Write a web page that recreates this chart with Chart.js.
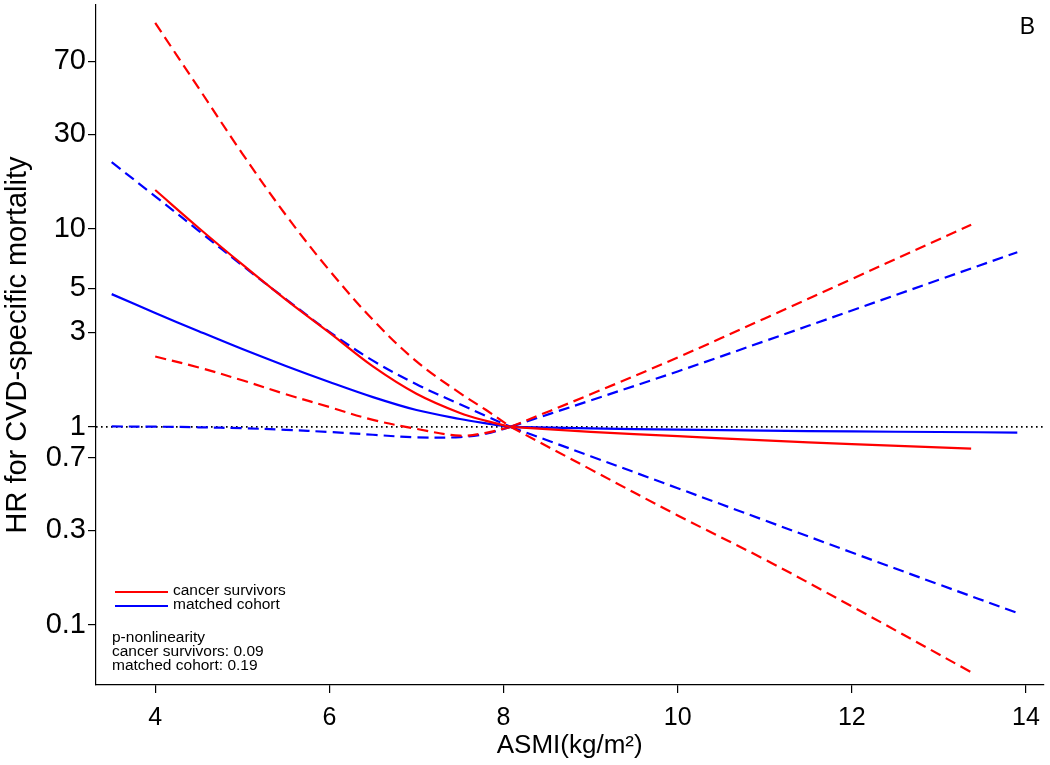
<!DOCTYPE html>
<html lang="en">
<head>
<meta charset="UTF-8">
<title>HR for CVD-specific mortality by ASMI</title>
<script src="https://cdn.jsdelivr.net/npm/chart.js"></script>
<style>
  body { margin: 0; background: #fff; }
  .wrap { width: 1050px; height: 765px; position: relative; }
</style>
</head>
<body>
<div class="wrap"><canvas id="hrChart"></canvas></div>
<script>
// values (HR with 95% CI)
const cancerX     = [4, 4.5, 5, 5.5, 6, 6.5, 7, 7.5, 7.8, 8.08, 9, 10, 11, 12, 13.37];
const cancerHR    = [15.7, 10.1, 6.61, 4.39, 2.99, 2.02, 1.47, 1.175, 1.072, 1, 0.944, 0.897, 0.855, 0.818, 0.776];
const cancerUpper = [109.6, 51.3, 24.0, 11.75, 6.17, 3.47, 2.14, 1.48, 1.216, 1, 1.46, 2.24, 3.53, 5.58, 10.5];
const cancerLower = [2.265, 1.995, 1.718, 1.462, 1.259, 1.084, 0.977, 0.902, 0.933, 1, 0.61, 0.357, 0.214, 0.124, 0.0577];

const matchedX     = [3.5, 4, 4.5, 5, 5.5, 6, 6.5, 7, 7.5, 7.8, 8.08, 9, 10, 11, 12, 13, 13.9];
const matchedHR    = [4.68, 3.76, 3.04, 2.47, 2.03, 1.685, 1.413, 1.216, 1.096, 1.042, 1, 0.982, 0.968, 0.957, 0.948, 0.942, 0.936];
const matchedUpper = [21.7, 14.6, 9.77, 6.53, 4.42, 3.02, 2.16, 1.64, 1.30, 1.135, 1, 1.36, 1.905, 2.71, 3.87, 5.53, 7.62];
const matchedLower = [1.005, 1.002, 0.995, 0.984, 0.966, 0.942, 0.912, 0.885, 0.887, 0.923, 1, 0.711, 0.49, 0.337, 0.232, 0.16, 0.115];

const refX = 8.08;   // reference ASMI, all curves meet at HR = 1
const xTicks = [4, 6, 8, 10, 12, 14];
const yTicks = [0.1, 0.3, 0.7, 1, 3, 5, 10, 30, 70];
const groups = ['cancer survivors', 'matched cohort'];
const pNonlin = ['0.09', '0.19'];

const RED = '#ff0000';
const BLUE = '#0000ff';
const FONT = 'Liberation Sans, Arial, sans-serif';
Chart.defaults.font.family = FONT;
Chart.defaults.color = '#000';

// split a curve at the reference point so the kink there stays sharp
function part(xs, ys, left) {
    const pts = [];
    xs.forEach((x, i) => {
        if (left ? x <= refX : x >= refX) pts.push({ x: x, y: ys[i] });
    });
    return pts;
}

function curve(label, xs, ys, color, dashed) {
    return [true, false].map(left => ({
        label: label,
        data: part(xs, ys, left),
        borderColor: color,
        borderWidth: 2.2,
        borderDash: dashed ? [11, 6] : [],
        pointRadius: 0,
        tension: 0.35,
        fill: false
    }));
}

const datasets = [
    ...curve(groups[0], cancerX, cancerHR, RED, false),
    ...curve(groups[1], matchedX, matchedHR, BLUE, false),
    ...curve(groups[0] + ' upper', cancerX, cancerUpper, RED, true),
    ...curve(groups[0] + ' lower', cancerX, cancerLower, RED, true),
    ...curve(groups[1] + ' upper', matchedX, matchedUpper, BLUE, true),
    ...curve(groups[1] + ' lower', matchedX, matchedLower, BLUE, true),
    {
        label: 'HR = 1',
        data: [{ x: 3.32, y: 1 }, { x: 14.2, y: 1 }],
        borderColor: '#000',
        borderWidth: 1.6,
        borderDash: [1.6, 3.4],
        pointRadius: 0
    }
];

// legend, p-values and panel letter inside the plot
const notes = {
    id: 'notes',
    afterDatasetsDraw(chart) {
        const { ctx, chartArea } = chart;
        const x0 = chartArea.left + 19;
        const y0 = chartArea.bottom - 93;
        ctx.save();
        ctx.font = '15.5px ' + FONT;
        ctx.textBaseline = 'middle';
        ctx.fillStyle = '#000';
        [RED, BLUE].forEach((c, i) => {
            const y = y0 + i * 14;
            ctx.strokeStyle = c;
            ctx.lineWidth = 2;
            ctx.beginPath();
            ctx.moveTo(x0, y);
            ctx.lineTo(x0 + 53, y);
            ctx.stroke();
            ctx.fillText(groups[i], x0 + 58, y - 1);
        });
        ctx.fillText('p-nonlinearity', x0 - 3, y0 + 46);
        groups.forEach((g, i) => {
            ctx.fillText(g + ': ' + pNonlin[i], x0 - 3, y0 + 60 + i * 14);
        });
        ctx.font = '23px ' + FONT;
        ctx.textAlign = 'center';
        ctx.fillText('B', chartArea.right - 16, chartArea.top + 23);
        ctx.restore();
    }
};

new Chart(document.getElementById('hrChart'), {
    type: 'line',
    data: { datasets: datasets },
    options: {
        responsive: true,
        maintainAspectRatio: false,
        animation: false,
        layout: { padding: { top: 5, right: 5, left: 0, bottom: 0 } },
        plugins: {
            legend: { display: false },
            tooltip: { enabled: false }
        },
        scales: {
            x: {
                type: 'linear',
                min: 3.32,
                max: 14.2,
                afterBuildTicks: s => { s.ticks = xTicks.map(v => ({ value: v })); },
                afterFit: s => { s.height = 80; },
                ticks: { font: { size: 25 }, padding: 10, maxRotation: 0, autoSkip: false },
                grid: { drawOnChartArea: false, tickLength: 8, color: '#000', lineWidth: 1.2 },
                border: { color: '#000', width: 1.2 },
                title: { display: true, text: 'ASMI(kg/m²)', font: { size: 26 }, padding: { top: 0, bottom: 4 } }
            },
            y: {
                type: 'logarithmic',
                min: 0.0497,
                max: 135,
                afterBuildTicks: s => { s.ticks = yTicks.map(v => ({ value: v })); },
                afterFit: s => { s.width = 96; s.paddingTop = 0; s.paddingBottom = 0; },
                ticks: { callback: v => String(v), font: { size: 29 }, padding: 2, autoSkip: false },
                grid: { drawOnChartArea: false, tickLength: 8, color: '#000', lineWidth: 1.2 },
                border: { color: '#000', width: 1.2 },
                title: { display: true, text: 'HR for CVD-specific mortality', font: { size: 29 }, padding: { top: 1, bottom: 0 } }
            }
        }
    },
    plugins: [notes]
});
</script>
</body>
</html>
